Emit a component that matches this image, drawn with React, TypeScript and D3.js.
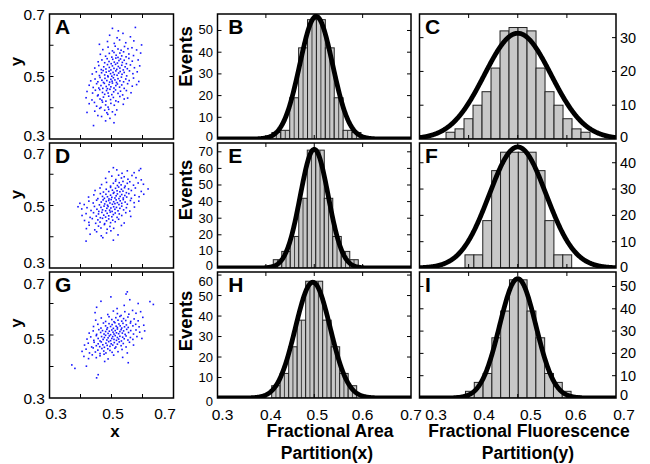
import React from "react";
import * as d3 from "d3";

type P = [number, number];

// ---------- scatter data (x = fractional area, y = fractional fluorescence) ----------
const scatterA: P[] = [
  [0.442,0.343],[0.508,0.352],[0.481,0.358],
  [0.468,0.372],[0.495,0.366],[0.512,0.378],[0.456,0.375],[0.488,0.379],
  [0.421,0.385],[0.478,0.392],[0.503,0.387],[0.462,0.398],[0.491,0.395],[0.517,0.393],[0.446,0.389],[0.485,0.384],
  [0.428,0.413],[0.452,0.405],[0.471,0.418],[0.489,0.402],[0.498,0.414],[0.509,0.408],[0.522,0.419],[0.538,0.411],[0.466,0.401],[0.481,0.409],[0.445,0.417],
  [0.418,0.432],[0.437,0.425],[0.455,0.438],[0.463,0.428],[0.474,0.434],[0.482,0.421],[0.491,0.437],[0.497,0.426],[0.506,0.433],[0.514,0.422],[0.527,0.436],[0.541,0.428],[0.552,0.431],[0.469,0.424],
  [0.421,0.452],[0.439,0.447],[0.448,0.456],[0.457,0.441],[0.462,0.458],[0.471,0.449],[0.478,0.443],[0.484,0.455],[0.489,0.447],[0.495,0.459],[0.501,0.442],[0.507,0.451],[0.513,0.457],[0.521,0.446],[0.529,0.453],[0.536,0.441],[0.548,0.455],[0.563,0.448],
  [0.428,0.472],[0.441,0.465],[0.452,0.477],[0.459,0.463],[0.466,0.471],[0.472,0.462],[0.477,0.478],[0.483,0.468],[0.487,0.461],[0.492,0.474],[0.498,0.467],[0.503,0.479],[0.508,0.463],[0.514,0.471],[0.519,0.476],[0.526,0.466],[0.533,0.473],[0.541,0.462],[0.552,0.477],[0.567,0.469],[0.581,0.474],
  [0.433,0.486],[0.447,0.492],[0.456,0.483],[0.463,0.497],[0.469,0.488],[0.474,0.481],[0.479,0.494],[0.485,0.487],[0.489,0.499],[0.494,0.482],[0.498,0.491],[0.502,0.485],[0.506,0.496],[0.511,0.489],[0.516,0.481],[0.521,0.493],[0.527,0.486],[0.532,0.498],[0.539,0.483],[0.546,0.492],[0.557,0.487],[0.571,0.495],[0.588,0.484],
  [0.438,0.508],[0.451,0.515],[0.461,0.503],[0.468,0.512],[0.473,0.519],[0.478,0.505],[0.483,0.514],[0.488,0.502],[0.492,0.517],[0.497,0.509],[0.501,0.501],[0.505,0.513],[0.509,0.506],[0.514,0.518],[0.518,0.504],[0.523,0.511],[0.528,0.516],[0.534,0.507],[0.541,0.513],[0.549,0.502],[0.558,0.518],[0.569,0.509],[0.583,0.515],
  [0.446,0.527],[0.459,0.535],[0.467,0.522],[0.475,0.531],[0.482,0.524],[0.487,0.538],[0.493,0.529],[0.498,0.521],[0.503,0.534],[0.508,0.526],[0.513,0.539],[0.517,0.523],[0.522,0.532],[0.527,0.527],[0.533,0.536],[0.538,0.521],[0.544,0.531],[0.551,0.525],[0.561,0.537],[0.574,0.528],[0.591,0.534],
  [0.457,0.547],[0.469,0.553],[0.478,0.544],[0.486,0.557],[0.492,0.548],[0.499,0.541],[0.504,0.555],[0.509,0.546],[0.514,0.559],[0.519,0.543],[0.524,0.551],[0.529,0.556],[0.535,0.545],[0.541,0.552],[0.548,0.541],[0.556,0.558],[0.567,0.549],[0.586,0.553],
  [0.464,0.571],[0.481,0.565],[0.493,0.574],[0.501,0.562],[0.508,0.577],[0.515,0.568],[0.521,0.561],[0.527,0.575],[0.533,0.566],[0.539,0.579],[0.547,0.563],[0.556,0.572],[0.571,0.567],[0.594,0.575],
  [0.472,0.586],[0.489,0.594],[0.503,0.582],[0.512,0.597],[0.521,0.588],[0.531,0.584],[0.542,0.596],[0.553,0.589],[0.566,0.592],[0.581,0.585],
  [0.461,0.603],[0.487,0.612],[0.509,0.606],[0.526,0.617],[0.546,0.608],[0.572,0.614],[0.597,0.601],
  [0.494,0.632],[0.518,0.624],[0.537,0.638],[0.561,0.627],
  [0.503,0.654],[0.522,0.646],[0.577,0.657],
];

const scatterD: P[] = [
  [0.418,0.386],[0.506,0.389],[0.472,0.397],
  [0.431,0.408],[0.452,0.416],[0.467,0.403],[0.484,0.412],[0.498,0.419],[0.521,0.406],
  [0.419,0.426],[0.428,0.437],[0.446,0.422],[0.458,0.434],[0.466,0.428],[0.477,0.439],[0.486,0.424],[0.495,0.433],[0.507,0.427],[0.532,0.436],
  [0.413,0.452],[0.427,0.446],[0.438,0.458],[0.449,0.443],[0.456,0.454],[0.463,0.447],[0.471,0.459],[0.478,0.442],[0.484,0.451],[0.491,0.457],[0.497,0.445],[0.504,0.453],[0.512,0.448],[0.523,0.456],[0.541,0.444],
  [0.405,0.468],[0.418,0.474],[0.431,0.462],[0.442,0.477],[0.451,0.466],[0.458,0.473],[0.464,0.461],[0.469,0.478],[0.475,0.469],[0.481,0.463],[0.486,0.475],[0.491,0.467],[0.496,0.479],[0.501,0.464],[0.506,0.471],[0.512,0.476],[0.518,0.462],[0.525,0.473],[0.533,0.468],[0.546,0.477],[0.562,0.465],
  [0.392,0.496],[0.404,0.489],[0.421,0.493],[0.434,0.484],[0.445,0.497],[0.453,0.488],[0.459,0.481],[0.466,0.494],[0.471,0.486],[0.476,0.498],[0.481,0.483],[0.485,0.491],[0.489,0.497],[0.494,0.485],[0.498,0.492],[0.502,0.481],[0.507,0.496],[0.511,0.488],[0.516,0.494],[0.521,0.483],[0.527,0.491],[0.533,0.498],[0.539,0.486],[0.548,0.493],[0.559,0.482],[0.574,0.495],
  [0.398,0.507],[0.412,0.503],[0.427,0.514],[0.441,0.508],[0.452,0.517],[0.461,0.502],[0.467,0.511],[0.473,0.518],[0.478,0.505],[0.483,0.513],[0.487,0.501],[0.491,0.516],[0.495,0.508],[0.499,0.519],[0.503,0.504],[0.507,0.512],[0.511,0.506],[0.515,0.518],[0.519,0.509],[0.524,0.503],[0.528,0.515],[0.533,0.507],[0.538,0.519],[0.544,0.511],[0.551,0.504],[0.561,0.516],[0.573,0.509],[0.588,0.514],
  [0.426,0.527],[0.443,0.534],[0.456,0.522],[0.464,0.538],[0.471,0.529],[0.477,0.523],[0.482,0.536],[0.487,0.528],[0.492,0.521],[0.497,0.533],[0.501,0.526],[0.506,0.539],[0.511,0.524],[0.515,0.531],[0.519,0.537],[0.524,0.522],[0.528,0.529],[0.533,0.535],[0.538,0.524],[0.543,0.532],[0.549,0.527],[0.556,0.538],[0.564,0.523],[0.575,0.533],[0.589,0.528],[0.604,0.536],
  [0.447,0.548],[0.463,0.556],[0.474,0.543],[0.483,0.552],[0.491,0.545],[0.497,0.558],[0.503,0.549],[0.508,0.542],[0.513,0.555],[0.518,0.547],[0.523,0.559],[0.527,0.544],[0.532,0.552],[0.537,0.546],[0.542,0.557],[0.548,0.541],[0.555,0.553],[0.564,0.548],[0.577,0.556],[0.596,0.545],[0.618,0.553],
  [0.468,0.567],[0.484,0.574],[0.497,0.562],[0.506,0.571],[0.513,0.578],[0.519,0.564],[0.525,0.573],[0.531,0.566],[0.537,0.577],[0.544,0.562],[0.551,0.571],[0.559,0.576],[0.571,0.565],[0.586,0.572],[0.603,0.568],
  [0.481,0.587],[0.501,0.594],[0.514,0.583],[0.523,0.597],[0.532,0.588],[0.541,0.592],[0.553,0.584],[0.566,0.596],[0.579,0.589],[0.596,0.582],
  [0.492,0.608],[0.517,0.614],[0.534,0.603],[0.551,0.611],[0.573,0.605],[0.589,0.612],
  [0.506,0.621],[0.594,0.618],
];

const scatterG: P[] = [
  [0.452,0.364],[0.457,0.374],
  [0.382,0.394],
  [0.372,0.405],[0.419,0.401],[0.554,0.412],[0.478,0.416],
  [0.411,0.432],[0.426,0.425],[0.438,0.437],[0.451,0.428],[0.463,0.434],[0.476,0.439],[0.489,0.424],[0.507,0.436],[0.536,0.429],
  [0.405,0.448],[0.418,0.455],[0.429,0.443],[0.441,0.459],[0.448,0.446],[0.456,0.452],[0.463,0.441],[0.469,0.457],[0.475,0.449],[0.482,0.443],[0.488,0.456],[0.495,0.451],[0.502,0.445],[0.511,0.458],[0.521,0.447],[0.534,0.454],[0.551,0.443],
  [0.413,0.468],[0.425,0.474],[0.436,0.462],[0.444,0.477],[0.451,0.466],[0.457,0.472],[0.462,0.463],[0.467,0.478],[0.472,0.469],[0.477,0.461],[0.482,0.474],[0.486,0.467],[0.491,0.479],[0.495,0.464],[0.499,0.472],[0.504,0.468],[0.509,0.476],[0.514,0.462],[0.519,0.471],[0.525,0.478],[0.531,0.466],[0.538,0.473],[0.547,0.462],[0.558,0.477],[0.571,0.468],
  [0.421,0.487],[0.433,0.494],[0.443,0.483],[0.451,0.498],[0.457,0.489],[0.463,0.481],[0.468,0.495],[0.473,0.486],[0.477,0.492],[0.481,0.499],[0.485,0.484],[0.489,0.491],[0.493,0.497],[0.497,0.482],[0.501,0.489],[0.504,0.495],[0.508,0.486],[0.512,0.498],[0.516,0.483],[0.519,0.492],[0.523,0.487],[0.527,0.496],[0.532,0.481],[0.536,0.493],[0.541,0.488],[0.547,0.497],[0.553,0.484],[0.561,0.492],[0.569,0.486],[0.582,0.495],[0.598,0.489],
  [0.428,0.506],[0.441,0.513],[0.452,0.502],[0.459,0.517],[0.465,0.508],[0.471,0.514],[0.476,0.503],[0.481,0.511],[0.485,0.518],[0.489,0.505],[0.493,0.512],[0.497,0.501],[0.501,0.516],[0.505,0.509],[0.508,0.503],[0.512,0.514],[0.516,0.507],[0.519,0.519],[0.523,0.504],[0.527,0.511],[0.531,0.517],[0.535,0.506],[0.539,0.513],[0.544,0.502],[0.549,0.518],[0.555,0.508],[0.562,0.514],[0.571,0.503],[0.579,0.516],[0.591,0.509],[0.607,0.513],
  [0.442,0.527],[0.456,0.534],[0.466,0.522],[0.474,0.538],[0.481,0.529],[0.487,0.523],[0.492,0.536],[0.497,0.527],[0.502,0.533],[0.506,0.521],[0.511,0.539],[0.515,0.528],[0.519,0.524],[0.524,0.535],[0.528,0.529],[0.533,0.522],[0.537,0.537],[0.542,0.526],[0.548,0.532],[0.554,0.524],[0.561,0.538],[0.569,0.529],[0.578,0.534],[0.589,0.526],[0.604,0.531],
  [0.449,0.547],[0.467,0.554],[0.481,0.543],[0.492,0.558],[0.501,0.549],[0.508,0.542],[0.514,0.555],[0.521,0.547],[0.527,0.559],[0.533,0.544],[0.539,0.552],[0.546,0.546],[0.553,0.557],[0.562,0.543],[0.573,0.551],[0.586,0.545],[0.601,0.556],
  [0.447,0.571],[0.488,0.565],[0.506,0.576],[0.519,0.568],[0.531,0.562],[0.543,0.574],[0.556,0.566],[0.568,0.578],[0.579,0.569],[0.594,0.574],
  [0.452,0.588],[0.518,0.584],[0.541,0.594],[0.586,0.600],[0.635,0.597],
  [0.466,0.607],[0.559,0.612],[0.624,0.606],
  [0.547,0.630],[0.551,0.637],[0.498,0.621],
];

// ---------- histogram data: counts, [first bin edge, bin width], gaussian fit [mu, sigma, peak] ----------
const countsB = [3, 4, 19, 42, 55, 55, 42, 19, 4, 3];
const binsB = [0.4125, 0.0184];
const fitB = [0.504, 0.034, 56.5];
const countsC = [2, 3, 6, 10, 14, 21, 32, 33, 33, 32, 21, 14, 10, 6, 3, 2];
const binsC = [0.354, 0.01832];
const fitC = [0.5, 0.068, 31.3];
const countsE = [5, 10, 19, 42, 71, 71, 42, 19, 10, 5];
const binsE = [0.4153, 0.01757];
const fitE = [0.5, 0.029, 71.5];
const countsF = [5, 5, 18, 37, 44, 44, 44, 44, 37, 18, 5, 5];
const binsF = [0.3926, 0.0181];
const fitF = [0.5, 0.058, 46];
const countsH = [6, 12, 25, 38, 57, 57, 38, 25, 12, 6];
const binsH = [0.412, 0.01757];
const fitH = [0.497, 0.036, 56.5];
const countsI = [1, 3, 7, 11, 27, 39, 53, 53, 39, 27, 11, 7, 3, 1];
const binsI = [0.3757, 0.01791];
const fitI = [0.5, 0.037, 53.5];

const yMaxes = [57.6, 37, 75.3, 47.5, 61.5, 56.5]; // B, C, E, F, H, I

const xDomain = [0.3, 0.7];
const histXTicks = [0.3, 0.4, 0.5, 0.6, 0.7];
const scatterTicks = [0.3, 0.4, 0.5, 0.6, 0.7];
const scatterLabelTicks = [0.3, 0.5, 0.7];

// ---------- layout / style ----------
const FONT = "'Liberation Sans', Arial, Helvetica, sans-serif";
const COLS = [[49.5, 173.5], [217.5, 411], [419.5, 616]];
const ROWS = [[14, 139], [143, 268], [272, 398]];
const TICK = 4;
const FS_LEFT = 13;
const FS_RIGHT = 14.5;
const FSX = 15.5;
const scatterYShift = [[-4, 0, 0], [-6, 1, 10], [0, 3, 11]];
const scatterXShift = [6.5, 1.5, -8.5];
const hXShift = [5, 5, 3, 0, 0];
const iXShift = [16.5, 15.5, 13, 9, 8];
// per-row label nudges (value -> px) for the left (B,E,H) and right (C,F,I) count axes
const leftNudge: Record<number, number>[] = [{ 0: -3, 50: -1 }, { 0: -2.5, 10: -1 }, { 0: 3, 60: 6, 50: 1 }];
const rightNudge: Record<number, number>[] = [{ 0: -2 }, { 0: -1 }, { 0: -3 }];
const yTitleShift = [-15, -11, -12];
const eventsShift = [-20, -15.5, -14];

function Frame({ c, r }: any) {
  return (
    <rect x={c[0]} y={r[0]} width={c[1] - c[0]} height={r[1] - r[0]}
      fill="none" stroke="#000" strokeWidth={1.5} />
  );
}

function Scatter({ pts, row, letter }: any) {
  const c = COLS[0], r = ROWS[row];
  const xs = d3.scaleLinear().domain(xDomain).range(c);
  const ys = d3.scaleLinear().domain(xDomain).range([r[1], r[0]]);
  const inner = scatterTicks.slice(1, -1);
  return (
    <g>
      {pts.map((p: P, i: number) => (
        <rect key={i} x={xs(p[0]) - 0.8} y={ys(p[1]) - 0.8} width={1.6} height={1.6} fill="#1515ff" />
      ))}
      <Frame c={c} r={r} />
      {inner.map((t, i) => (
        <g key={i} stroke="#000" strokeWidth={1}>
          <line x1={xs(t)} x2={xs(t)} y1={r[1]} y2={r[1] - TICK} />
          <line x1={xs(t)} x2={xs(t)} y1={r[0]} y2={r[0] + TICK} />
          <line x1={c[0]} x2={c[0] + TICK} y1={ys(t)} y2={ys(t)} />
          <line x1={c[1]} x2={c[1] - TICK} y1={ys(t)} y2={ys(t)} />
        </g>
      ))}
      {scatterLabelTicks.map((t, i) => (
        <text key={i} x={45} y={ys(t) + scatterYShift[row][i]} textAnchor="end"
          dominantBaseline="central" fontSize={FSX}>{d3.format(".1f")(t)}</text>
      ))}
      {row === 2 && scatterLabelTicks.map((t, i) => (
        <text key={"x" + i} x={xs(t) + scatterXShift[i]} y={413} textAnchor="middle"
          dominantBaseline="central" fontSize={FSX}>{d3.format(".1f")(t)}</text>
      ))}
      <text x={c[0] + 5.5} y={r[0] + 20} fontSize={21} fontWeight="bold">{letter}</text>
      <text transform={`translate(21.8,${(r[0] + r[1]) / 2 + yTitleShift[row]}) rotate(-90)`}
        textAnchor="middle" fontSize={17} fontWeight="bold">y</text>
    </g>
  );
}

function Hist({ col, row, counts, bins, fit, yMax, letter, letterDx, xLabelShift, midLines }: any) {
  const c = COLS[col], r = ROWS[row];
  const xs = d3.scaleLinear().domain(xDomain).range(c);
  const ys = d3.scaleLinear().domain([0, yMax]).range([r[1], r[0]]);
  const yTicks = d3.range(0, yMax, 10);
  const [mu, sd, amp] = fit;
  const xsCurve = d3.range(0, 401).map((i) => xDomain[0] + (i / 400) * (xDomain[1] - xDomain[0]));
  const line = d3.line<number>()
    .x((v) => xs(v))
    .y((v) => ys(amp * Math.exp(-((v - mu) * (v - mu)) / (2 * sd * sd))));
  const clipId = `clip-${col}-${row}`;
  const [b0, bw] = bins;
  const nudge = col === 1 ? leftNudge[row] : rightNudge[row];
  return (
    <g>
      <clipPath id={clipId}>
        <rect x={c[0]} y={r[0]} width={c[1] - c[0]} height={r[1] - r[0]} />
      </clipPath>
      <g clipPath={`url(#${clipId})`}>
        {counts.map((n: number, i: number) => {
          const xa = xs(b0 + i * bw), xb = xs(b0 + (i + 1) * bw);
          return (
            <g key={i}>
              <rect x={xa} y={ys(n)} width={xb - xa} height={ys(0) - ys(n)}
                fill="#c8c8c8" stroke="#222" strokeWidth={1} />
              {midLines && (
                <line x1={(xa + xb) / 2} x2={(xa + xb) / 2} y1={ys(n)} y2={ys(0)}
                  stroke="#333" strokeWidth={0.9} />
              )}
            </g>
          );
        })}
        <path d={line(xsCurve) || ""} fill="none" stroke="#000" strokeWidth={4.8} strokeLinejoin="round" />
      </g>
      <Frame c={c} r={r} />
      {histXTicks.slice(1, -1).map((t, i) => (
        <g key={i} stroke="#000" strokeWidth={1}>
          <line x1={xs(t)} x2={xs(t)} y1={r[1]} y2={r[1] - TICK} />
          <line x1={xs(t)} x2={xs(t)} y1={r[0]} y2={r[0] + TICK} />
        </g>
      ))}
      {yTicks.slice(1).map((t, i) => (
        <g key={i} stroke="#000" strokeWidth={1}>
          <line x1={c[0]} x2={c[0] + TICK} y1={ys(t)} y2={ys(t)} />
          <line x1={c[1]} x2={c[1] - TICK} y1={ys(t)} y2={ys(t)} />
        </g>
      ))}
      {yTicks.map((t, i) => (
        <text key={"yl" + i}
          x={col === 1 ? 213 : 620}
          y={ys(t) + (nudge[t] || 0)}
          textAnchor={col === 1 ? "end" : "start"} dominantBaseline="central"
          fontSize={col === 1 ? FS_LEFT : FS_RIGHT}>
          {String(t)}
        </text>
      ))}
      {xLabelShift && histXTicks.map((t, i) => (
        <text key={"xl" + i} x={xs(t) + xLabelShift[i]} y={414} textAnchor="middle"
          dominantBaseline="central" fontSize={FSX}>{d3.format(".1f")(t)}</text>
      ))}
      <text x={c[0] + letterDx} y={r[0] + 20} fontSize={21} fontWeight="bold">{letter}</text>
      {col === 1 && (
        <text transform={`translate(191.5,${(r[0] + r[1]) / 2 + eventsShift[row]}) rotate(-90)`}
          textAnchor="middle" fontSize={18.5} fontWeight="bold">Events</text>
      )}
    </g>
  );
}

export default function App() {
  return (
    <svg width={650} height={464} fontFamily={FONT}
      style={{ position: "absolute", left: 0, top: 0, background: "#fff" }}>
      <rect width={650} height={464} fill="#fff" />
      <Scatter pts={scatterA} row={0} letter="A" />
      <Scatter pts={scatterD} row={1} letter="D" />
      <Scatter pts={scatterG} row={2} letter="G" />
      <Hist col={1} row={0} counts={countsB} bins={binsB} fit={fitB} yMax={yMaxes[0]} letter="B" letterDx={10.8} midLines />
      <Hist col={2} row={0} counts={countsC} bins={binsC} fit={fitC} yMax={yMaxes[1]} letter="C" letterDx={5.5} />
      <Hist col={1} row={1} counts={countsE} bins={binsE} fit={fitE} yMax={yMaxes[2]} letter="E" letterDx={10.8} midLines />
      <Hist col={2} row={1} counts={countsF} bins={binsF} fit={fitF} yMax={yMaxes[3]} letter="F" letterDx={5.5} />
      <Hist col={1} row={2} counts={countsH} bins={binsH} fit={fitH} yMax={yMaxes[4]} letter="H" letterDx={10.8} xLabelShift={hXShift} midLines />
      <Hist col={2} row={2} counts={countsI} bins={binsI} fit={fitI} yMax={yMaxes[5]} letter="I" letterDx={5.5} xLabelShift={iXShift} />
      <text x={115} y={437} textAnchor="middle" fontSize={17} fontWeight="bold">x</text>
      <text x={330} y={437} textAnchor="middle" fontSize={17.5} fontWeight="bold">Fractional Area</text>
      <text x={327} y={459} textAnchor="middle" fontSize={17.5} fontWeight="bold">Partition(x)</text>
      <text x={529} y={437} textAnchor="middle" fontSize={17.5} fontWeight="bold">Fractional Fluorescence</text>
      <text x={528} y={459} textAnchor="middle" fontSize={17.5} fontWeight="bold">Partition(y)</text>
    </svg>
  );
}
